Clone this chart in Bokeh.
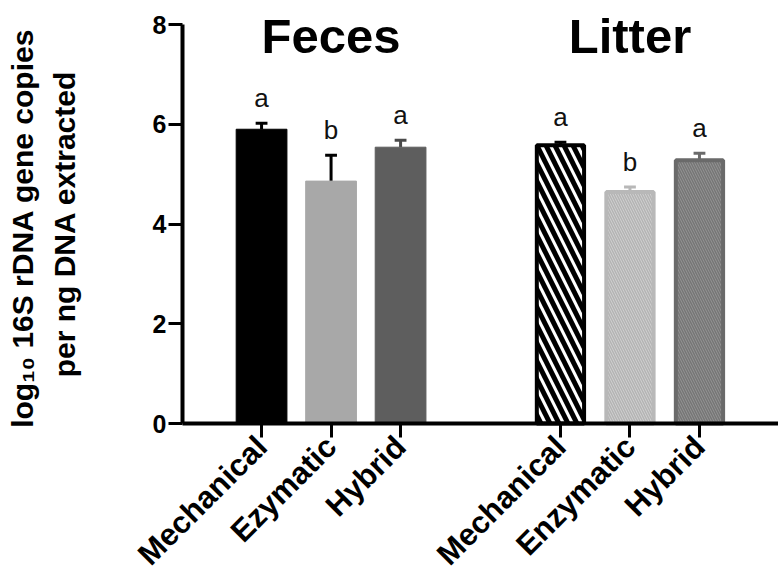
from math import pi
from bokeh.plotting import figure
from bokeh.models import Range1d, Label, LabelSet, ColumnDataSource, FixedTicker
from bokeh.core.properties import value
from bokeh.embed import file_html
from bokeh.resources import INLINE

# ---------------- data ----------------
groups = ["Feces", "Litter"]
feces_methods = ["Mechanical", "Ezymatic", "Hybrid"]
litter_methods = ["Mechanical", "Enzymatic", "Hybrid"]
feces_mean = [5.90, 4.86, 5.54]
feces_err = [0.12, 0.52, 0.14]
litter_mean = [5.58, 4.64, 5.28]
litter_err = [0.06, 0.10, 0.14]
feces_letters = ["a", "b", "a"]
litter_letters = ["a", "b", "a"]
y_ticks = [0, 2, 4, 6, 8]
y_label_lines = ["log\u2081\u2080 16S  rDNA gene copies", "per ng DNA extracted"]

# ---------------- layout / style ----------------
GROUP_STEP = 4.3          # distance between first bars of the two groups
BAR_W = 0.73
CAP_W = 0.17
FONT = "Liberation Sans"
X_AXIS_AT = -1.137        # data x where the y axis sits
X_END = 7.437
PX_X = 69.5               # pixels per x unit
PX_Y = 49.875             # pixels per y unit
W, H = 778, 571
LEFT_PX, BOTTOM_PX, TOP_PX = 182, 148, 24

feces_x = [float(i) for i in range(len(feces_methods))]
litter_x = [round(i + GROUP_STEP, 2) for i in range(len(litter_methods))]

feces_fill = ["#000000", "#a8a8a8", "#5e5e5e"]
feces_err_col = ["#000000", "#000000", "#4a4a4a"]
litter_fill = ["#ffffff", "#d2d2d2", "#969696"]
litter_line = ["#000000", "#b8b8b8", "#6a6a6a"]
litter_hatch = ["#000000", "#b4b4b4", "#767676"]
litter_hscale = [18, 5, 5]
litter_hweight = [5, 1.5, 1.5]

x_range = Range1d(X_AXIS_AT - LEFT_PX / PX_X, X_END)
y_range = Range1d(y_ticks[0] - BOTTOM_PX / PX_Y, y_ticks[-1] + TOP_PX / PX_Y)

p = figure(width=W, height=H, output_backend="svg", toolbar_location=None,
           x_range=x_range, y_range=y_range,
           min_border_left=0, min_border_top=0, min_border_bottom=0, min_border_right=0)
p.outline_line_color = None
p.xgrid.grid_line_color = None
p.ygrid.grid_line_color = None
p.background_fill_color = "white"
p.border_fill_color = "white"

fsrc = ColumnDataSource(dict(x=feces_x, top=feces_mean, err_top=[m + e for m, e in zip(feces_mean, feces_err)],
                             fill=feces_fill, ecol=feces_err_col, letter=feces_letters))
lsrc = ColumnDataSource(dict(x=litter_x, top=litter_mean, err_top=[m + e for m, e in zip(litter_mean, litter_err)],
                             fill=litter_fill, line=litter_line, hatch=litter_hatch,
                             hs=litter_hscale, hw=litter_hweight, ecol=litter_line, letter=litter_letters))

for src in (fsrc, lsrc):
    src.data["cap_l"] = [x - CAP_W / 2 for x in src.data["x"]]
    src.data["cap_r"] = [x + CAP_W / 2 for x in src.data["x"]]

# error bars (upper only), drawn below the bars
for src in (fsrc, lsrc):
    p.segment(x0="x", y0="top", x1="x", y1="err_top", source=src, line_color="ecol", line_width=3)
    p.segment(x0="cap_l", y0="err_top", x1="cap_r", y1="err_top", source=src, line_color="ecol", line_width=3)

p.vbar(x="x", top="top", bottom=0, width=BAR_W, source=fsrc, fill_color="fill", line_color="fill", line_width=1)
p.vbar(x="x", top="top", bottom=0, width=BAR_W - 0.05, source=lsrc, fill_color="fill", line_color="line",
       line_width=4, hatch_pattern="left_diagonal_line", hatch_color="hatch",
       hatch_scale="hs", hatch_weight="hw")

# significance letters
for src in (fsrc, lsrc):
    p.add_layout(LabelSet(x="x", y="err_top", text="letter", source=src, y_offset=16,
                          text_align="center", text_baseline="alphabetic",
                          text_font=value(FONT), text_font_size=value("26px"), text_color="#111111"))

# group titles
for name, xs in zip(groups, (feces_x, litter_x)):
    p.add_layout(Label(x=sum(xs) / len(xs), y=y_ticks[-1], y_offset=-11, text=name,
                       text_align="center", text_baseline="middle",
                       text_font=FONT, text_font_size="49px", text_font_style="bold",
                       text_color="black"))

# y axis title (two centred lines, rotated)
for line, off in zip(y_label_lines, (-160, -118)):
    p.add_layout(Label(x=X_AXIS_AT, y=(y_ticks[0] + y_ticks[-1]) / 2, x_offset=off, text=line,
                       angle=pi / 2, text_align="center", text_baseline="middle",
                       text_font=FONT, text_font_size="30px", text_font_style="bold",
                       text_color="black"))

# axes
ya = p.yaxis[0]
ya.fixed_location = X_AXIS_AT
ya.ticker = FixedTicker(ticks=y_ticks)
ya.bounds = (y_ticks[0], y_ticks[-1])
ya.axis_line_width = 4
ya.axis_line_color = "black"
ya.major_tick_line_width = 3
ya.major_tick_out = 14
ya.major_tick_in = 0
ya.minor_tick_line_color = None
ya.major_label_text_font = FONT
ya.major_label_text_font_size = "25px"
ya.major_label_text_font_style = "bold"
ya.major_label_text_color = "black"
ya.major_label_standoff = 2

xa = p.xaxis[0]
xa.fixed_location = y_ticks[0]
xa.bounds = (X_AXIS_AT, X_END)
xa.ticker = FixedTicker(ticks=feces_x + litter_x)
xa.major_label_overrides = {x: t for x, t in zip(feces_x + litter_x, feces_methods + litter_methods)}
xa.major_label_orientation = pi / 4
xa.axis_line_width = 4
xa.axis_line_color = "black"
xa.major_tick_line_width = 3
xa.major_tick_out = 14
xa.major_tick_in = 0
xa.minor_tick_line_color = None
xa.major_label_text_font = FONT
xa.major_label_text_font_size = "31px"
xa.major_label_text_font_style = "bold"
xa.major_label_text_color = "black"
xa.major_label_standoff = 4

open("out.html", "w").write(file_html(p, INLINE))
